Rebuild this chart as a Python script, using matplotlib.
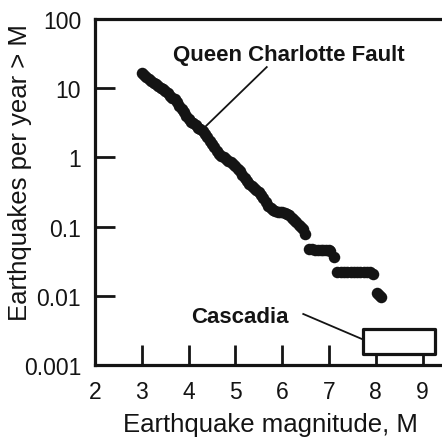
import matplotlib
matplotlib.use("Agg")
import matplotlib.pyplot as plt
from matplotlib.patches import Rectangle

plt.rcParams['font.family'] = ['Liberation Sans', 'DejaVu Sans']

# Queen Charlotte Fault cumulative rate
mag = [3.00, 3.05, 3.10, 3.15, 3.20, 3.25, 3.30, 3.35, 3.40, 3.45, 3.50, 3.55,
       3.60, 3.65, 3.70, 3.75, 3.80, 3.85, 3.90, 3.95, 4.00, 4.05, 4.10, 4.15,
       4.20, 4.25, 4.30, 4.35, 4.40, 4.45, 4.50, 4.55, 4.60, 4.65, 4.70, 4.75,
       4.80, 4.85, 4.90, 4.95, 5.00, 5.05, 5.10, 5.15, 5.20, 5.25, 5.30, 5.35,
       5.40, 5.45, 5.50, 5.55, 5.60, 5.65, 5.70, 5.75, 5.80, 5.85, 5.90, 5.95,
       6.00, 6.05, 6.10, 6.15, 6.20, 6.25, 6.30, 6.35, 6.40, 6.45, 6.49,
       6.58, 6.64, 6.70, 6.76, 6.82, 6.88, 6.94, 7.00, 7.03, 7.10,
       7.18, 7.25, 7.32, 7.39, 7.46, 7.53, 7.60, 7.67, 7.74, 7.81, 7.88, 7.95,
       8.02, 8.07, 8.12]
rate = [16.5, 15.3, 14.3, 13.5, 12.8, 12.0, 11.4, 10.8, 10.2, 9.6, 9.0, 8.4,
        7.8, 7.3, 6.9, 6.3, 5.6, 5.0, 4.5, 4.0, 3.6, 3.3, 3.1, 2.9,
        2.7, 2.55, 2.4, 2.15, 1.95, 1.75, 1.55, 1.4, 1.25, 1.13, 1.05, 1.0,
        0.95, 0.9, 0.85, 0.8, 0.75, 0.69, 0.63, 0.56, 0.50, 0.45, 0.41, 0.38,
        0.36, 0.34, 0.32, 0.29, 0.26, 0.23, 0.20, 0.185, 0.175, 0.17, 0.165, 0.162,
        0.16, 0.157, 0.152, 0.145, 0.135, 0.125, 0.115, 0.107, 0.100, 0.092, 0.078,
        0.047, 0.047, 0.046, 0.046, 0.046, 0.046, 0.046, 0.046, 0.044, 0.036,
        0.022, 0.022, 0.022, 0.022, 0.022, 0.022, 0.022, 0.022, 0.022, 0.022, 0.022, 0.021,
        0.011, 0.0102, 0.0095]

# Cascadia box: magnitude range and rate range
casc_mag = [7.72, 9.27]
casc_rate = [0.00144, 0.0033]

xticks = [2, 3, 4, 5, 6, 7, 8, 9]
yticks = [0.001, 0.01, 0.1, 1, 10, 100]
ytick_labels = ['0.001', '0.01', '0.1', '1', '10', '100']

ink = '#141414'

fig = plt.figure(figsize=(4.42, 4.39), dpi=100)
ax = fig.add_axes([95 / 442, 73 / 439, 351 / 442, 346 / 439])
ax.set_yscale('log')
ax.set_xlim(2, 9.5)
ax.set_ylim(0.001, 100)

ax.plot(mag, rate, 'o', color=ink, markersize=8.3, markeredgewidth=0, zorder=4)

ax.add_patch(Rectangle((casc_mag[0], casc_rate[0]), casc_mag[1] - casc_mag[0],
                       casc_rate[1] - casc_rate[0], facecolor='white',
                       edgecolor=ink, linewidth=2.3, zorder=3,
                       joinstyle='round'))

ax.set_xticks(xticks)
ax.set_yticks(yticks)
ax.set_yticklabels(ytick_labels)
ax.minorticks_off()
ax.tick_params(direction='in', length=14.5, width=2.0, color=ink,
               labelsize=16.5, labelcolor=ink)
ax.tick_params(axis='x', pad=11)
ax.tick_params(axis='y', pad=10)
for s in ax.spines.values():
    s.set_linewidth(2.3)
    s.set_color(ink)

ax.text(6.15, 31, 'Queen Charlotte Fault', fontsize=16, fontweight='bold',
        ha='center', va='center', color=ink)
ax.plot([5.67, 4.35], [20.2, 2.75], color=ink, linewidth=1.3, zorder=3)

ax.text(5.10, 0.0051, 'Cascadia', fontsize=16, fontweight='bold',
        ha='center', va='center', color=ink)
ax.plot([6.45, 7.70], [0.00546, 0.00238], color=ink, linewidth=1.3, zorder=3)

fig.text(20 / 442, 1 - 173 / 439, 'Earthquakes per year > M', rotation=90,
         fontsize=18.5, ha='center', va='center', color=ink)
fig.text(270 / 442, 1 - 425 / 439, 'Earthquake magnitude, M',
         fontsize=18.5, ha='center', va='center', color=ink)

fig.savefig('out.png', dpi=100)
